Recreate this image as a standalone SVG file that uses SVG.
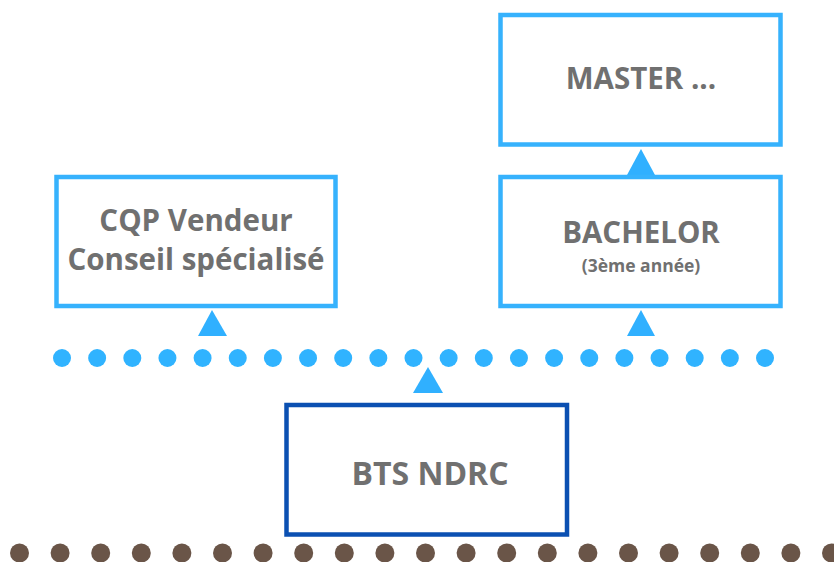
<svg xmlns="http://www.w3.org/2000/svg" width="834" height="562" viewBox="0 0 834 562">
<style>
.box{fill:#ffffff;stroke:#36b2fd;stroke-width:4.5}
.dark{fill:#ffffff;stroke:#0b50b2;stroke-width:4.5}
.t{font-family:"Open Sans","Liberation Sans",sans-serif;font-weight:bold;fill:#707070;text-anchor:middle}
.tri{fill:#30b0ff}
.bd{fill:#30b3ff}
.br{fill:#6a5548}
</style>
<rect width="834" height="562" fill="#ffffff"/>
<g id="connectors">
<g id="blue-dots">
<circle class="bd" cx="62" cy="358" r="9"/><circle class="bd" cx="97.15" cy="358" r="9"/><circle class="bd" cx="132.3" cy="358" r="9"/><circle class="bd" cx="167.45" cy="358" r="9"/><circle class="bd" cx="202.6" cy="358" r="9"/><circle class="bd" cx="237.75" cy="358" r="9"/><circle class="bd" cx="272.9" cy="358" r="9"/><circle class="bd" cx="308.05" cy="358" r="9"/><circle class="bd" cx="343.2" cy="358" r="9"/><circle class="bd" cx="378.35" cy="358" r="9"/><circle class="bd" cx="413.5" cy="358" r="9"/><circle class="bd" cx="448.65" cy="358" r="9"/><circle class="bd" cx="483.8" cy="358" r="9"/><circle class="bd" cx="518.95" cy="358" r="9"/><circle class="bd" cx="554.1" cy="358" r="9"/><circle class="bd" cx="589.25" cy="358" r="9"/><circle class="bd" cx="624.4" cy="358" r="9"/><circle class="bd" cx="659.55" cy="358" r="9"/><circle class="bd" cx="694.7" cy="358" r="9"/><circle class="bd" cx="729.85" cy="358" r="9"/><circle class="bd" cx="765" cy="358" r="9"/>
</g>
<g id="brown-dots">
<circle class="br" cx="19.5" cy="553" r="9.5"/><circle class="br" cx="60.1" cy="553" r="9.5"/><circle class="br" cx="100.7" cy="553" r="9.5"/><circle class="br" cx="141.3" cy="553" r="9.5"/><circle class="br" cx="181.9" cy="553" r="9.5"/><circle class="br" cx="222.5" cy="553" r="9.5"/><circle class="br" cx="263.1" cy="553" r="9.5"/><circle class="br" cx="303.7" cy="553" r="9.5"/><circle class="br" cx="344.3" cy="553" r="9.5"/><circle class="br" cx="384.9" cy="553" r="9.5"/><circle class="br" cx="425.5" cy="553" r="9.5"/><circle class="br" cx="466.1" cy="553" r="9.5"/><circle class="br" cx="506.7" cy="553" r="9.5"/><circle class="br" cx="547.3" cy="553" r="9.5"/><circle class="br" cx="587.9" cy="553" r="9.5"/><circle class="br" cx="628.5" cy="553" r="9.5"/><circle class="br" cx="669.1" cy="553" r="9.5"/><circle class="br" cx="709.7" cy="553" r="9.5"/><circle class="br" cx="750.3" cy="553" r="9.5"/><circle class="br" cx="790.9" cy="553" r="9.5"/><circle class="br" cx="831.5" cy="553" r="9.5"/>
</g>
<polygon class="tri" points="641,149 627,175 655,175"/>
<polygon class="tri" points="641,310 627,336 655,336"/>
<polygon class="tri" points="212,310 198,336 227,336"/>
<polygon class="tri" points="428,367 413,393 443,393"/>
</g>
<g id="master">
<rect class="box" x="500.5" y="15" width="280" height="129.5"/>
<text class="t" x="641" y="89" font-size="29.5">MASTER ...</text>
</g>
<g id="bachelor">
<rect class="box" x="500.5" y="177" width="280" height="129"/>
<text class="t" x="641" y="243" font-size="29.5">BACHELOR</text>
<text class="t" x="641" y="272" font-size="17.5">(3ème année)</text>
</g>
<g id="cqp">
<rect class="box" x="56.5" y="177" width="279" height="129"/>
<text class="t" x="196" y="231" font-size="29.5">CQP Vendeur</text>
<text class="t" x="196" y="270" font-size="29.5">Conseil spécialisé</text>
</g>
<g id="bts">
<rect class="dark" x="286.5" y="405" width="280.5" height="129.5"/>
<text class="t" x="430" y="485" font-size="32">BTS NDRC</text>
</g>
</svg>
